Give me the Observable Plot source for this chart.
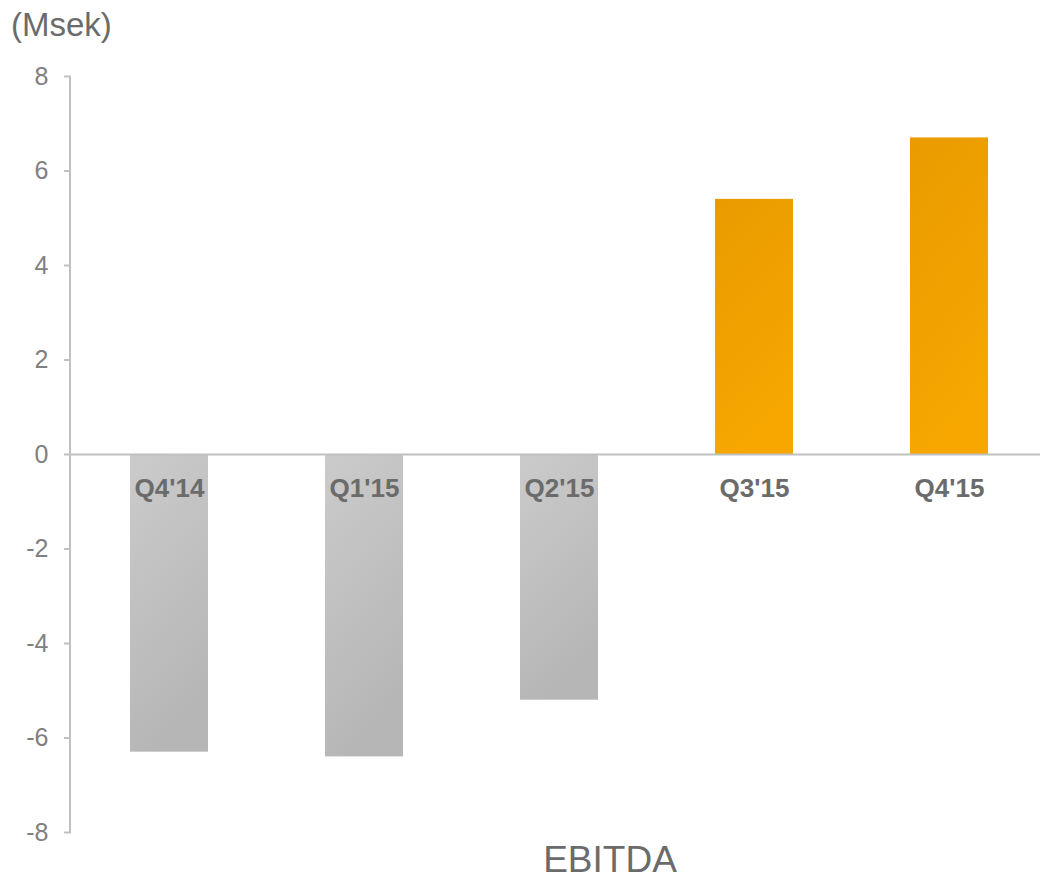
<!DOCTYPE html>
<html>
<head>
<meta charset="utf-8">
<script src="https://cdn.jsdelivr.net/npm/d3@7"></script>
<script src="https://cdn.jsdelivr.net/npm/@observablehq/plot@0.6"></script>
<style>
  html, body { margin: 0; padding: 0; background: #fff; }
  #wrap { position: relative; width: 1040px; height: 878px; font-family: "Liberation Sans", Arial, sans-serif; }
  #unit { position: absolute; left: 11px; top: 8px; font-size: 33px; color: #6b6b6b; line-height: 1; }
  #caption { position: absolute; left: 0; width: 1220px; top: 841px; text-align: center; font-size: 37px; color: #6b6b6b; line-height: 1; }
  svg { position: absolute; left: 0; top: 0; }
</style>
</head>
<body>
<div id="wrap">
  <div id="chart"></div>
  <div id="unit">(Msek)</div>
  <div id="caption">EBITDA</div>
</div>
<script>
const categories = ["Q4'14", "Q1'15", "Q2'15", "Q3'15", "Q4'15"];
const values = [-6.3, -6.4, -5.2, 5.4, 6.7];
const yTicks = [-8, -6, -4, -2, 0, 2, 4, 6, 8];

const data = categories.map((c, i) => ({ q: c, v: values[i] }));

const chart = Plot.plot({
  width: 1040,
  height: 878,
  marginLeft: 71,
  marginRight: 0,
  marginTop: 76,
  marginBottom: 46,
  style: { fontFamily: "'Liberation Sans', Arial, sans-serif", background: "transparent" },
  x: { domain: categories, range: [71, 1047], paddingInner: 0.6, paddingOuter: 0.3, axis: null },
  y: { domain: [-8, 8], axis: null },
  marks: [
    Plot.barY(data, {
      x: "q", y: "v",
      fill: d => d.v < 0 ? "url(#gradGrey)" : "url(#gradOrange)"
    }),
    Plot.ruleY([0], { stroke: "#c0c0c0", strokeWidth: 2 }),
    Plot.axisY({
      ticks: yTicks, tickSize: 7, tickPadding: 16,
      stroke: "#c0c0c0", strokeWidth: 2, fill: "#808080",
      fontSize: 25, label: null, tickFormat: d => String(d)
    }),
    Plot.text(data, {
      x: "q", y: () => 0, text: "q", dy: 34,
      fontSize: 26, fontWeight: "bold", fill: "#6b6b6b", lineAnchor: "middle"
    })
  ]
});

const svg = d3.select(chart);
const defs = svg.insert("defs", ":first-child");
const g1 = defs.append("linearGradient").attr("id", "gradGrey")
  .attr("x1", "0").attr("y1", "0").attr("x2", "0.3").attr("y2", "1");
g1.append("stop").attr("offset", "0").attr("stop-color", "#cbcbcb");
g1.append("stop").attr("offset", "1").attr("stop-color", "#b6b6b6");
const g2 = defs.append("linearGradient").attr("id", "gradOrange")
  .attr("x1", "0").attr("y1", "0").attr("x2", "0.3").attr("y2", "1");
g2.append("stop").attr("offset", "0").attr("stop-color", "#e99b00");
g2.append("stop").attr("offset", "1").attr("stop-color", "#f7a700");

// vertical axis line from y=-8 to y=8
const ys = chart.scale("y");
svg.append("line")
  .attr("x1", 70).attr("x2", 70)
  .attr("y1", ys.apply(8)).attr("y2", ys.apply(-8))
  .attr("stroke", "#c0c0c0").attr("stroke-width", 2);

document.getElementById("chart").appendChild(chart);
</script>
</body>
</html>
